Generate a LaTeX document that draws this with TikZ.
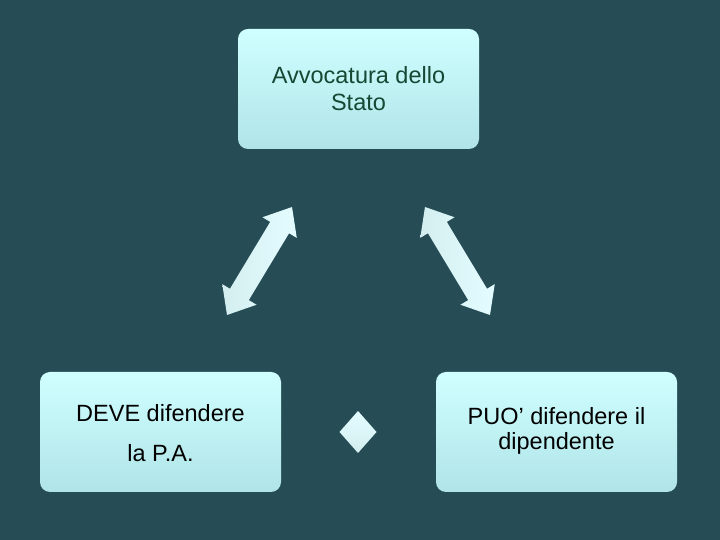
\documentclass[tikz,border=0pt]{standalone}
\usepackage{fontspec}
\setmainfont{Liberation Sans}
\definecolor{bg}{RGB}{38,77,85}
\definecolor{boxtop}{RGB}{208,255,255}
\definecolor{boxbot}{RGB}{176,228,232}
\definecolor{arrlight}{RGB}{228,252,255}
\definecolor{arrdark}{RGB}{212,238,240}
\definecolor{toptext}{RGB}{22,72,52}
\tikzset{
  box/.style={rounded corners=10pt, top color=boxtop, bottom color=boxbot, draw=none},
  boxtext/.style={align=center, font=\fontsize{23.5}{27}\selectfont},
  dblarrow/.style={left color=arrdark, right color=arrlight, draw=none},
}
\begin{document}
\begin{tikzpicture}[x=1pt,y=1pt]
\useasboundingbox (0,0) rectangle (720,540);
\fill[bg] (0,0) rectangle (720,540);
% boxes
\path[box] (238,391) rectangle (479,511);
\node[boxtext, text=toptext] (top) at (358.5,451) {Avvocatura dello\\Stato};
\path[box] (40,48) rectangle (281,168);
\node[boxtext, font=\fontsize{23.5}{40}\selectfont] (left) at (160.5,107) {DEVE difendere\\la P.A.};
\path[box] (436,48) rectangle (677,168);
\node[boxtext, font=\fontsize{23.5}{25}\selectfont] (right) at (556.5,109) {PUO’ difendere il\\dipendente};
% left double arrow
\begin{scope}[shift={(227,225)}, x={(0.516pt,0.857pt)}, y={(-0.857pt,0.516pt)}]
\path[dblarrow] (0,0) -- (24,20) -- (24,11) -- (102,11) -- (102,20) -- (126,0)
  -- (102,-20) -- (102,-11) -- (24,-11) -- (24,-20) -- cycle;
\end{scope}
% right double arrow
\begin{scope}[shift={(490,225)}, x={(-0.516pt,0.857pt)}, y={(-0.857pt,-0.516pt)}]
\path[dblarrow] (0,0) -- (24,20) -- (24,11) -- (102,11) -- (102,20) -- (126,0)
  -- (102,-20) -- (102,-11) -- (24,-11) -- (24,-20) -- cycle;
\end{scope}
% diamond
\path[top color=arrlight, bottom color=arrdark] (358,129) -- (376.5,108) -- (358,87) -- (339.5,108) -- cycle;
\end{tikzpicture}
\end{document}
